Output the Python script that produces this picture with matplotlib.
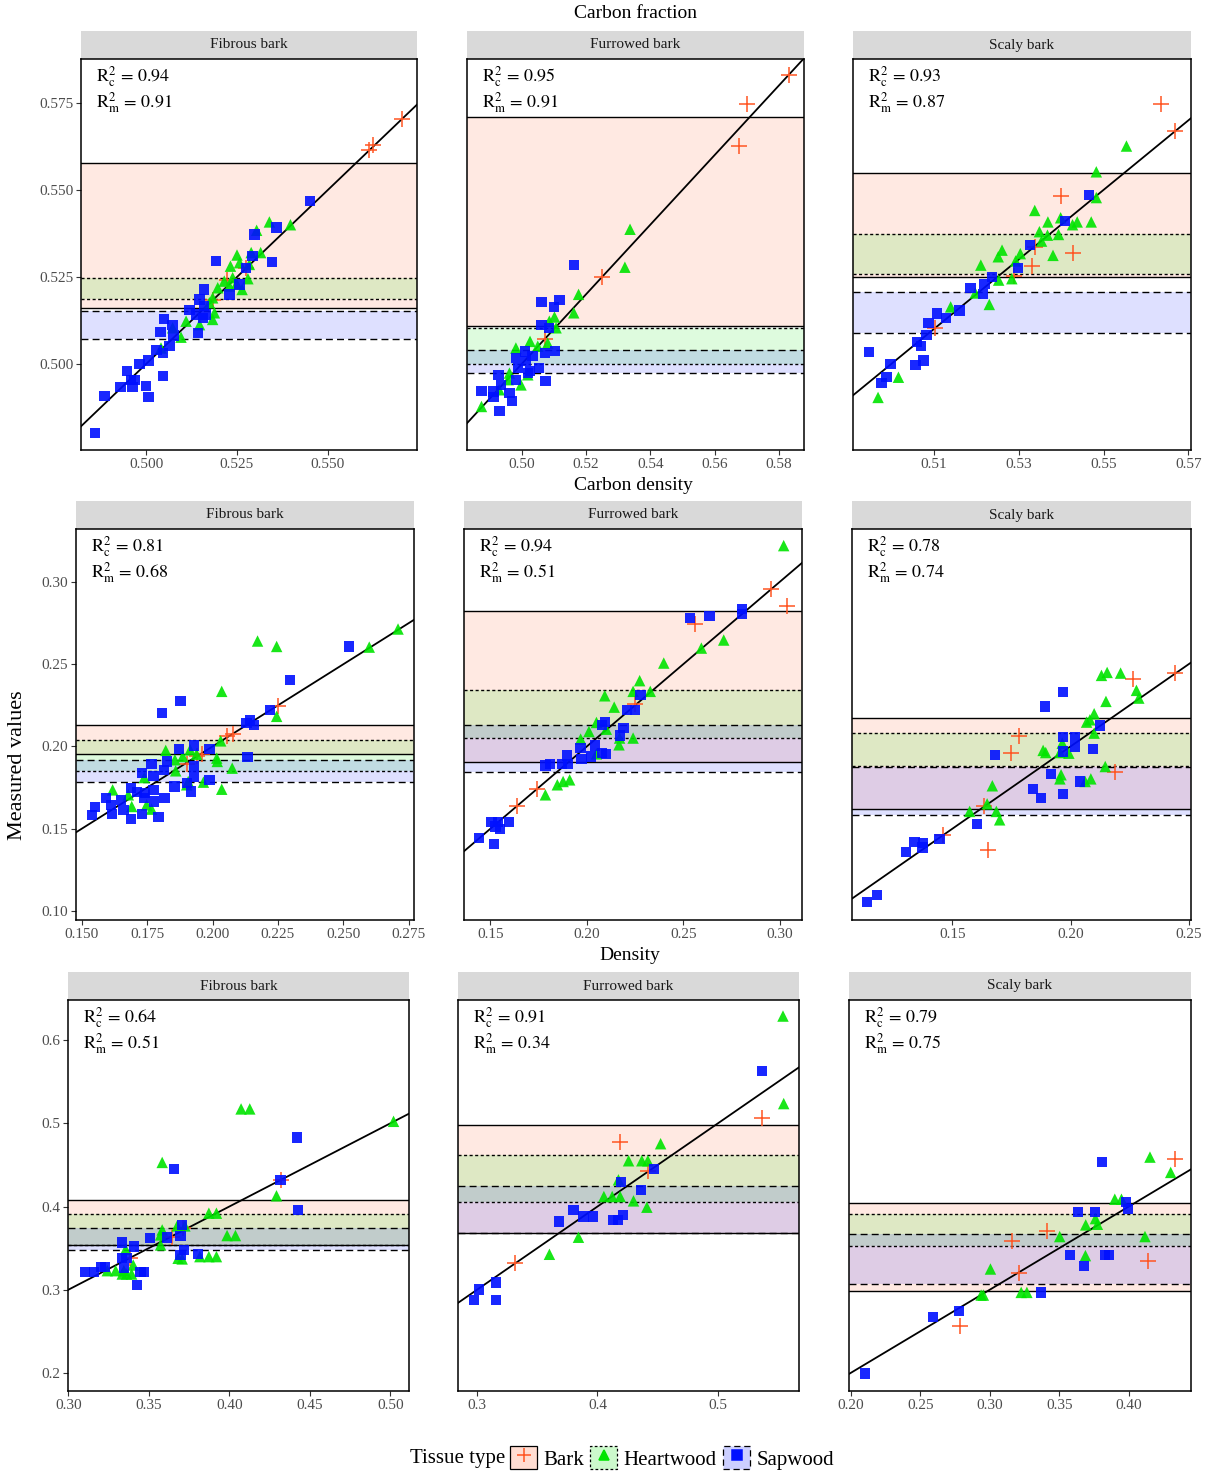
import matplotlib
matplotlib.use("Agg")
import matplotlib.pyplot as plt
from matplotlib.lines import Line2D
from matplotlib.patches import Patch
from matplotlib.legend_handler import HandlerTuple
from matplotlib.ticker import FormatStrFormatter

plt.rcParams['font.family'] = ['Liberation Serif', 'DejaVu Serif']
plt.rcParams['mathtext.fontset'] = 'stix'

variables = ['Carbon fraction', 'Carbon density', 'Density']
bark_types = ['Fibrous bark', 'Furrowed bark', 'Scaly bark']
tissues = ['Bark', 'Heartwood', 'Sapwood']

# ---------------- Carbon fraction: (predicted, measured) ----------------
cf_fib_bark = [(0.5703, 0.5704), (0.5625, 0.5629), (0.5613, 0.5615), (0.5275, 0.5277),
               (0.5223, 0.5240), (0.5184, 0.5185)]
cf_fib_heart = [(0.5339, 0.5408), (0.5397, 0.5400), (0.5304, 0.5384), (0.5315, 0.5320),
                (0.5289, 0.5320), (0.5250, 0.5313), (0.5232, 0.5281), (0.5257, 0.5291),
                (0.5284, 0.5286), (0.5280, 0.5245), (0.5249, 0.5231), (0.5238, 0.5248),
                (0.5229, 0.5224), (0.5264, 0.5214), (0.5215, 0.5238), (0.5197, 0.5219),
                (0.5183, 0.5190), (0.5174, 0.5176), (0.5188, 0.5147), (0.5183, 0.5128),
                (0.5147, 0.5113), (0.5110, 0.5123), (0.5073, 0.5104), (0.5096, 0.5077),
                (0.5041, 0.5046)]
cf_fib_sap = [(0.4859, 0.4801), (0.4886, 0.4909), (0.4930, 0.4934), (0.4963, 0.4934),
              (0.4947, 0.4979), (0.4959, 0.4955), (0.4968, 0.4955), (0.4982, 0.5000),
              (0.5007, 0.5010), (0.5000, 0.4936), (0.5007, 0.4905), (0.5046, 0.4966),
              (0.5029, 0.5041), (0.5046, 0.5032), (0.5064, 0.5051), (0.5040, 0.5091),
              (0.5049, 0.5130), (0.5075, 0.5082), (0.5073, 0.5113), (0.5142, 0.5089),
              (0.5119, 0.5155), (0.5138, 0.5142), (0.5156, 0.5132), (0.5165, 0.5142),
              (0.5147, 0.5185), (0.5159, 0.5214), (0.5159, 0.5166), (0.5229, 0.5200),
              (0.5257, 0.5228), (0.5193, 0.5296), (0.5275, 0.5276), (0.5298, 0.5372),
              (0.5293, 0.5310), (0.5347, 0.5293), (0.5359, 0.5392), (0.5451, 0.5469)]

cf_fur_bark = [(0.5830, 0.5830), (0.5700, 0.5747), (0.5675, 0.5627), (0.5249, 0.5250),
               (0.5072, 0.5072)]
cf_fur_heart = [(0.5337, 0.5387), (0.5321, 0.5278), (0.5177, 0.5200), (0.5162, 0.5147),
                (0.5102, 0.5135), (0.5086, 0.5123), (0.5107, 0.5104), (0.5081, 0.5060),
                (0.5026, 0.5065), (0.5050, 0.5051), (0.4982, 0.5046), (0.4962, 0.4974),
                (0.5019, 0.4969), (0.4958, 0.4955), (0.4998, 0.4940), (0.4930, 0.4926),
                (0.4875, 0.4878)]
cf_fur_sap = [(0.5162, 0.5285), (0.5062, 0.5179), (0.5100, 0.5164), (0.5118, 0.5183),
              (0.5062, 0.5113), (0.5086, 0.5104), (0.5103, 0.5038), (0.5072, 0.5032),
              (0.5011, 0.5036), (0.4982, 0.5017), (0.5034, 0.5022), (0.5014, 0.5008),
              (0.4988, 0.4988), (0.5053, 0.4988), (0.5026, 0.4979), (0.5074, 0.4952),
              (0.4982, 0.4955), (0.4928, 0.4969), (0.4936, 0.4940), (0.4912, 0.4921),
              (0.4875, 0.4923), (0.4912, 0.4905), (0.4962, 0.4916), (0.4969, 0.4894),
              (0.4931, 0.4866), (0.5019, 0.4974)]

cf_sca_bark = [(0.5635, 0.5746), (0.5669, 0.5670), (0.5399, 0.5482), (0.5428, 0.5318),
               (0.5331, 0.5281), (0.5339, 0.5337), (0.5290, 0.5254), (0.5102, 0.5104)]
cf_sca_heart = [(0.5554, 0.5626), (0.5483, 0.5552), (0.5483, 0.5478), (0.5338, 0.5441),
                (0.5399, 0.5420), (0.5369, 0.5408), (0.5427, 0.5400), (0.5438, 0.5408),
                (0.5471, 0.5408), (0.5349, 0.5380), (0.5368, 0.5370), (0.5394, 0.5372),
                (0.5354, 0.5353), (0.5261, 0.5327), (0.5252, 0.5308), (0.5304, 0.5317),
                (0.5381, 0.5312), (0.5293, 0.5296), (0.5211, 0.5284), (0.5253, 0.5241),
                (0.5284, 0.5245), (0.5198, 0.5204), (0.5231, 0.5171), (0.5140, 0.5164),
                (0.5017, 0.4962), (0.4969, 0.4904)]
cf_sca_sap = [(0.5466, 0.5486), (0.5409, 0.5410), (0.5327, 0.5342), (0.5298, 0.5276),
              (0.5237, 0.5250), (0.5220, 0.5230), (0.5187, 0.5219), (0.5216, 0.5202),
              (0.5161, 0.5154), (0.5129, 0.5132), (0.5107, 0.5145), (0.5088, 0.5118),
              (0.5083, 0.5084), (0.5060, 0.5063), (0.5070, 0.5051), (0.4998, 0.5000),
              (0.4947, 0.5035), (0.5076, 0.5010), (0.5057, 0.4997), (0.4989, 0.4962),
              (0.4977, 0.4945)]

# ---------------- Carbon density ----------------
cd_fib_bark = [(0.2251, 0.2249), (0.2079, 0.2077), (0.2054, 0.2061), (0.1958, 0.1955),
               (0.1939, 0.1939), (0.1901, 0.1895)]
cd_fib_heart = [(0.2709, 0.2714), (0.2599, 0.2604), (0.2172, 0.2641), (0.2245, 0.2608),
                (0.2035, 0.2335), (0.2245, 0.2183), (0.2031, 0.2034), (0.2016, 0.1929),
                (0.2018, 0.1909), (0.2075, 0.1868), (0.2035, 0.1740), (0.1965, 0.1783),
                (0.1914, 0.1980), (0.1886, 0.1939), (0.1821, 0.1976), (0.1856, 0.1919),
                (0.1859, 0.1852), (0.1907, 0.1787), (0.1901, 0.1767), (0.1739, 0.1811),
                (0.1618, 0.1736), (0.1678, 0.1706), (0.1691, 0.1635), (0.1748, 0.1645),
                (0.1767, 0.1619), (0.1939, 0.1953)]
cd_fib_sap = [(0.2521, 0.2608), (0.2296, 0.2404), (0.1877, 0.2276), (0.1808, 0.2203),
              (0.2219, 0.2223), (0.2130, 0.2142), (0.2143, 0.2158), (0.2159, 0.2132),
              (0.2133, 0.1935), (0.1988, 0.1984), (0.1930, 0.2006), (0.1873, 0.1984),
              (0.1930, 0.1878), (0.1930, 0.1813), (0.1988, 0.1797), (0.1918, 0.1726),
              (0.1901, 0.1777), (0.1854, 0.1757), (0.1827, 0.1909), (0.1814, 0.1858),
              (0.1767, 0.1893), (0.1774, 0.1822), (0.1729, 0.1838), (0.1774, 0.1736),
              (0.1738, 0.1686), (0.1816, 0.1686), (0.1776, 0.1665), (0.1687, 0.1746),
              (0.1710, 0.1722), (0.1593, 0.1686), (0.1612, 0.1645), (0.1649, 0.1676),
              (0.1659, 0.1615), (0.1551, 0.1631), (0.1538, 0.1584), (0.1615, 0.1590),
              (0.1687, 0.1560), (0.1729, 0.1590), (0.1793, 0.1570), (0.1742, 0.1716)]

cd_fur_bark = [(0.2953, 0.2957), (0.3038, 0.2852), (0.2563, 0.2746), (0.2248, 0.2260),
               (0.1742, 0.1744), (0.1638, 0.1639)]
cd_fur_heart = [(0.3021, 0.3221), (0.2710, 0.2647), (0.2594, 0.2598), (0.2399, 0.2507),
                (0.2274, 0.2400), (0.2329, 0.2335), (0.2240, 0.2335), (0.2093, 0.2308),
                (0.2142, 0.2239), (0.2050, 0.2146), (0.2101, 0.2105), (0.2011, 0.2091),
                (0.1968, 0.2045), (0.2170, 0.2051), (0.2240, 0.2051), (0.2167, 0.2010),
                (0.2050, 0.1955), (0.1911, 0.1797), (0.1877, 0.1787), (0.1847, 0.1767),
                (0.1785, 0.1706)]
cd_fur_sap = [(0.2805, 0.2836), (0.2805, 0.2807), (0.2535, 0.2781), (0.2637, 0.2795),
              (0.2279, 0.2312), (0.2210, 0.2223), (0.2250, 0.2223), (0.2096, 0.2148),
              (0.2079, 0.2130), (0.2191, 0.2112), (0.2171, 0.2067), (0.2041, 0.2006),
              (0.1967, 0.1990), (0.1897, 0.1945), (0.2079, 0.1959), (0.2101, 0.1955),
              (0.2020, 0.1939), (0.1972, 0.1923), (0.1903, 0.1895), (0.1872, 0.1893),
              (0.1808, 0.1893), (0.1785, 0.1884), (0.1595, 0.1540), (0.1505, 0.1540),
              (0.1540, 0.1540), (0.1548, 0.1499), (0.1526, 0.1513), (0.1441, 0.1442),
              (0.1519, 0.1406)]

cd_sca_bark = [(0.2443, 0.2446), (0.2265, 0.2410), (0.1780, 0.2061), (0.1750, 0.1959),
               (0.2189, 0.1844), (0.1634, 0.1635), (0.1460, 0.1463), (0.1650, 0.1371)]
cd_sca_heart = [(0.2155, 0.2450), (0.2131, 0.2432), (0.2212, 0.2446), (0.2279, 0.2341),
                (0.2289, 0.2294), (0.2150, 0.2274), (0.2100, 0.2199), (0.2082, 0.2162),
                (0.2068, 0.2148), (0.2100, 0.2081), (0.1965, 0.2020), (0.1955, 0.1963),
                (0.1993, 0.1959), (0.1884, 0.1976), (0.1895, 0.1963), (0.2147, 0.1878),
                (0.1960, 0.1828), (0.1955, 0.1803), (0.2086, 0.1803), (0.2062, 0.1787),
                (0.1669, 0.1761), (0.1647, 0.1651), (0.1573, 0.1605), (0.1686, 0.1605),
                (0.1700, 0.1554)]
cd_sca_sap = [(0.1969, 0.2331), (0.1893, 0.2243), (0.2126, 0.2128), (0.1969, 0.2057),
              (0.2020, 0.2057), (0.2020, 0.1996), (0.1969, 0.1970), (0.2096, 0.1984),
              (0.1681, 0.1947), (0.1918, 0.1832), (0.2039, 0.1787), (0.1842, 0.1740),
              (0.1874, 0.1686), (0.1969, 0.1710), (0.1604, 0.1527), (0.1446, 0.1436),
              (0.1340, 0.1418), (0.1376, 0.1412), (0.1373, 0.1386), (0.1305, 0.1357),
              (0.1182, 0.1095), (0.1139, 0.1053)]

# ---------------- Density ----------------
de_fib_bark = [(0.4324, 0.4321), (0.3641, 0.3639), (0.3713, 0.3739), (0.3383, 0.3378)]
de_fib_heart = [(0.5020, 0.5024), (0.4073, 0.5173), (0.4127, 0.5173), (0.3583, 0.4530),
                (0.4293, 0.4129), (0.3873, 0.3920), (0.3920, 0.3920), (0.3724, 0.3767),
                (0.3676, 0.3767), (0.3583, 0.3719), (0.3573, 0.3659), (0.3986, 0.3651),
                (0.4038, 0.3651), (0.3573, 0.3538), (0.3356, 0.3486), (0.3817, 0.3398),
                (0.3873, 0.3398), (0.3920, 0.3398), (0.3682, 0.3378), (0.3707, 0.3370),
                (0.3403, 0.3297), (0.3345, 0.3229), (0.3294, 0.3229), (0.3242, 0.3229),
                (0.3362, 0.3189), (0.3393, 0.3189), (0.3335, 0.3189)]
de_fib_sap = [(0.4421, 0.4831), (0.3656, 0.4450), (0.4317, 0.4321), (0.4425, 0.3960),
              (0.3707, 0.3779), (0.3697, 0.3647), (0.3614, 0.3627), (0.3507, 0.3618),
              (0.3335, 0.3566), (0.3407, 0.3518), (0.3718, 0.3478), (0.3697, 0.3418),
              (0.3807, 0.3426), (0.3335, 0.3378), (0.3362, 0.3378), (0.3345, 0.3257),
              (0.3227, 0.3277), (0.3201, 0.3277), (0.3103, 0.3217), (0.3159, 0.3217),
              (0.3449, 0.3217), (0.3469, 0.3217), (0.3428, 0.3056)]

de_fur_bark = [(0.5368, 0.5060), (0.4183, 0.4775), (0.4418, 0.4422), (0.3319, 0.3317)]
de_fur_heart = [(0.5540, 0.6289), (0.5546, 0.5237), (0.4524, 0.4755), (0.4258, 0.4550),
                (0.4368, 0.4550), (0.4418, 0.4550), (0.4174, 0.4321), (0.4053, 0.4120),
                (0.4122, 0.4120), (0.4188, 0.4120), (0.4299, 0.4068), (0.4410, 0.3992),
                (0.3842, 0.3631), (0.3601, 0.3426)]
de_fur_sap = [(0.5366, 0.5630), (0.4468, 0.4450), (0.4197, 0.4293), (0.4360, 0.4197),
              (0.3801, 0.3960), (0.3884, 0.3880), (0.3961, 0.3880), (0.4210, 0.3896),
              (0.3679, 0.3819), (0.4127, 0.3839), (0.4169, 0.3839), (0.3158, 0.3088),
              (0.3014, 0.3004), (0.2972, 0.2876), (0.3158, 0.2876)]

de_sca_bark = [(0.4332, 0.4574), (0.3414, 0.3711), (0.3161, 0.3586), (0.3207, 0.3205),
               (0.4140, 0.3349), (0.2786, 0.2566)]
de_sca_heart = [(0.4152, 0.4594), (0.4301, 0.4410), (0.3899, 0.4088), (0.3947, 0.4088),
                (0.3760, 0.3855), (0.3774, 0.3787), (0.3690, 0.3779), (0.3503, 0.3639),
                (0.4116, 0.3639), (0.3688, 0.3410), (0.3005, 0.3249), (0.2938, 0.2936),
                (0.2954, 0.2936), (0.3226, 0.2968), (0.3267, 0.2968)]
de_sca_sap = [(0.3808, 0.4534), (0.3978, 0.4052), (0.3995, 0.3972), (0.3635, 0.3932),
              (0.3755, 0.3932), (0.3575, 0.3414), (0.3829, 0.3414), (0.3856, 0.3414),
              (0.3678, 0.3285), (0.3366, 0.2968), (0.2781, 0.2743), (0.2594, 0.2675),
              (0.2103, 0.1992)]

# Range bands (low, high) of measured values per tissue, one entry per bark type
cf_bark_band = [(0.5160, 0.5578), (0.5108, 0.5710), (0.5250, 0.5550)]
cf_heart_band = [(0.5188, 0.5248), (0.5000, 0.5102), (0.5259, 0.5373)]
cf_sap_band = [(0.5072, 0.5153), (0.4974, 0.5039), (0.5088, 0.5206)]

cd_bark_band = [(0.1955, 0.2132), (0.1905, 0.2821), (0.1621, 0.2176)]
cd_heart_band = [(0.1848, 0.2039), (0.2051, 0.2341), (0.1882, 0.2081)]
cd_sap_band = [(0.1783, 0.1915), (0.1846, 0.2128), (0.1584, 0.1878)]

de_bark_band = [(0.3542, 0.4084), (0.3679, 0.4980), (0.2984, 0.4048)]
de_heart_band = [(0.3534, 0.3908), (0.4056, 0.4614), (0.3526, 0.3916)]
de_sap_band = [(0.3478, 0.3739), (0.3687, 0.4249), (0.3072, 0.3675)]

# Concordance (c) and marginal (m) R2
cf_r2c = [0.94, 0.95, 0.93]
cf_r2m = [0.91, 0.91, 0.87]
cd_r2c = [0.81, 0.94, 0.78]
cd_r2m = [0.68, 0.51, 0.74]
de_r2c = [0.64, 0.91, 0.79]
de_r2m = [0.51, 0.34, 0.75]

# Axis limits and ticks
row_ylim = [(0.4753, 0.5876), (0.0945, 0.3322), (0.1783, 0.6482)]
row_yticks = [[0.500, 0.525, 0.550, 0.575], [0.10, 0.15, 0.20, 0.25, 0.30],
              [0.2, 0.3, 0.4, 0.5, 0.6]]
row_yfmt = ['%.3f', '%.2f', '%.1f']
panel_xlim = [[(0.4821, 0.5745), (0.4830, 0.5878), (0.4910, 0.5706)],
              [(0.1478, 0.2770), (0.1363, 0.3116), (0.1075, 0.2510)],
              [(0.2998, 0.5116), (0.2842, 0.5673), (0.1988, 0.4447)]]
panel_xticks = [[[0.500, 0.525, 0.550], [0.50, 0.52, 0.54, 0.56, 0.58], [0.51, 0.53, 0.55, 0.57]],
                [[0.150, 0.175, 0.200, 0.225, 0.250, 0.275], [0.15, 0.20, 0.25, 0.30],
                 [0.15, 0.20, 0.25]],
                [[0.30, 0.35, 0.40, 0.45, 0.50], [0.3, 0.4, 0.5], [0.20, 0.25, 0.30, 0.35, 0.40]]]
panel_xfmt = [['%.3f', '%.2f', '%.2f'], ['%.3f', '%.2f', '%.2f'], ['%.2f', '%.1f', '%.2f']]

points = [
    [[cf_fib_bark, cf_fib_heart, cf_fib_sap], [cf_fur_bark, cf_fur_heart, cf_fur_sap],
     [cf_sca_bark, cf_sca_heart, cf_sca_sap]],
    [[cd_fib_bark, cd_fib_heart, cd_fib_sap], [cd_fur_bark, cd_fur_heart, cd_fur_sap],
     [cd_sca_bark, cd_sca_heart, cd_sca_sap]],
    [[de_fib_bark, de_fib_heart, de_fib_sap], [de_fur_bark, de_fur_heart, de_fur_sap],
     [de_sca_bark, de_sca_heart, de_sca_sap]],
]
bands = [[cf_bark_band, cf_heart_band, cf_sap_band],
         [cd_bark_band, cd_heart_band, cd_sap_band],
         [de_bark_band, de_heart_band, de_sap_band]]
r2 = [(cf_r2c, cf_r2m), (cd_r2c, cd_r2m), (de_r2c, de_r2m)]

colors = {'Bark': '#FF5522', 'Heartwood': '#00E400', 'Sapwood': '#0010FF'}
markers = {'Bark': '+', 'Heartwood': '^', 'Sapwood': 's'}
msizes = {'Bark': 120, 'Heartwood': 68, 'Sapwood': 55}
band_ls = {'Bark': '-', 'Heartwood': (0, (2.2, 1.8)), 'Sapwood': (0, (5, 3))}
band_alpha = 0.13

# pixel layout of the panel grid
W, H = 1212, 1473
row_geom = [(59, 450, [(81, 417), (467, 804), (853, 1191)], 14),
            (529, 920, [(76, 414), (464, 802), (852, 1191)], 485),
            (1000, 1391, [(68, 409), (458, 799), (849, 1191)], 955)]
strip_h = 28


def rect(l, t, r, b):
    return [l / W, 1 - b / H, (r - l) / W, (b - t) / H]


fig = plt.figure(figsize=(W / 100, H / 100), dpi=100)

for ri, (top, bottom, xs, title_y) in enumerate(row_geom):
    fig.text((xs[0][0] + xs[-1][1]) / 2 / W, 1 - title_y / H, variables[ri],
             ha='center', va='center', fontsize=14)
    for ci, (left, right) in enumerate(xs):
        # facet strip
        sax = fig.add_axes(rect(left, top - strip_h, right, top))
        sax.set_facecolor('#D9D9D9')
        sax.set_xticks([])
        sax.set_yticks([])
        for sp in sax.spines.values():
            sp.set_visible(False)
        sax.text(0.5, 0.5, bark_types[ci], ha='center', va='center',
                 fontsize=11, color='#1A1A1A', transform=sax.transAxes)

        ax = fig.add_axes(rect(left, top, right, bottom))
        ax.set_xlim(*panel_xlim[ri][ci])
        ax.set_ylim(*row_ylim[ri])

        for ti, tissue in enumerate(tissues):
            lo, hi = bands[ri][ti][ci]
            ax.axhspan(lo, hi, facecolor=colors[tissue], alpha=band_alpha,
                       edgecolor='none', zorder=1)
            for v in (lo, hi):
                ax.axhline(v, color='black', lw=1.0, ls=band_ls[tissue], zorder=2)

        ax.axline((0, 0), slope=1, color='black', lw=1.3, zorder=3)

        for ti, tissue in enumerate(tissues):
            pts = points[ri][ci][ti]
            px = [p[0] for p in pts]
            py = [p[1] for p in pts]
            if tissue == 'Bark':
                ax.scatter(px, py, marker='+', s=msizes[tissue], color=colors[tissue],
                           linewidths=1.1, zorder=4)
            else:
                ax.scatter(px, py, marker=markers[tissue], s=msizes[tissue],
                           color=colors[tissue], edgecolors='none', alpha=0.9, zorder=4)

        rc, rm = r2[ri][0][ci], r2[ri][1][ci]
        pw, ph = right - left, bottom - top
        ax.text(15 / pw, 1 - 23 / ph, r'$\mathrm{R}_{\mathrm{c}}^{2}\,=\,%.2f$' % rc,
                transform=ax.transAxes, fontsize=13, va='baseline')
        ax.text(15 / pw, 1 - 49 / ph, r'$\mathrm{R}_{\mathrm{m}}^{2}\,=\,%.2f$' % rm,
                transform=ax.transAxes, fontsize=13, va='baseline')

        ax.set_xticks(panel_xticks[ri][ci])
        ax.xaxis.set_major_formatter(FormatStrFormatter(panel_xfmt[ri][ci]))
        if ci == 0:
            ax.set_yticks(row_yticks[ri])
            ax.yaxis.set_major_formatter(FormatStrFormatter(row_yfmt[ri]))
        else:
            ax.set_yticks([])
        ax.tick_params(direction='out', length=3.5, width=0.8, color='#333333',
                       labelsize=11, labelcolor='#4D4D4D', pad=2)
        for sp in ax.spines.values():
            sp.set_linewidth(1.1)
            sp.set_color('black')

fig.text(18 / W, 1 - 765 / H, 'Measured values', rotation=90, ha='center',
         va='center', fontsize=16)

# legend at the bottom
handles = []
for tissue in tissues:
    box = Patch(facecolor=matplotlib.colors.to_rgba(colors[tissue], 0.2),
                edgecolor='black', linestyle=band_ls[tissue], linewidth=0.9)
    mk = Line2D([], [], marker=markers[tissue], color=colors[tissue], ls='none',
                markersize=10 if tissue == 'Bark' else 7, markeredgewidth=1.1)
    handles.append((box, mk))

fig.text(458 / W, 1 - 1458 / H, 'Tissue type', ha='center', va='center', fontsize=15)
fig.legend(handles, tissues, loc='center', bbox_to_anchor=(672 / W, 1 - 1458 / H),
           ncol=3, frameon=False, fontsize=15, handlelength=1.3, handleheight=1.3,
           handletextpad=0.3, columnspacing=0.3,
           handler_map={tuple: HandlerTuple(ndivide=1, pad=0)})

fig.savefig('out.png', dpi=100, facecolor='white')
